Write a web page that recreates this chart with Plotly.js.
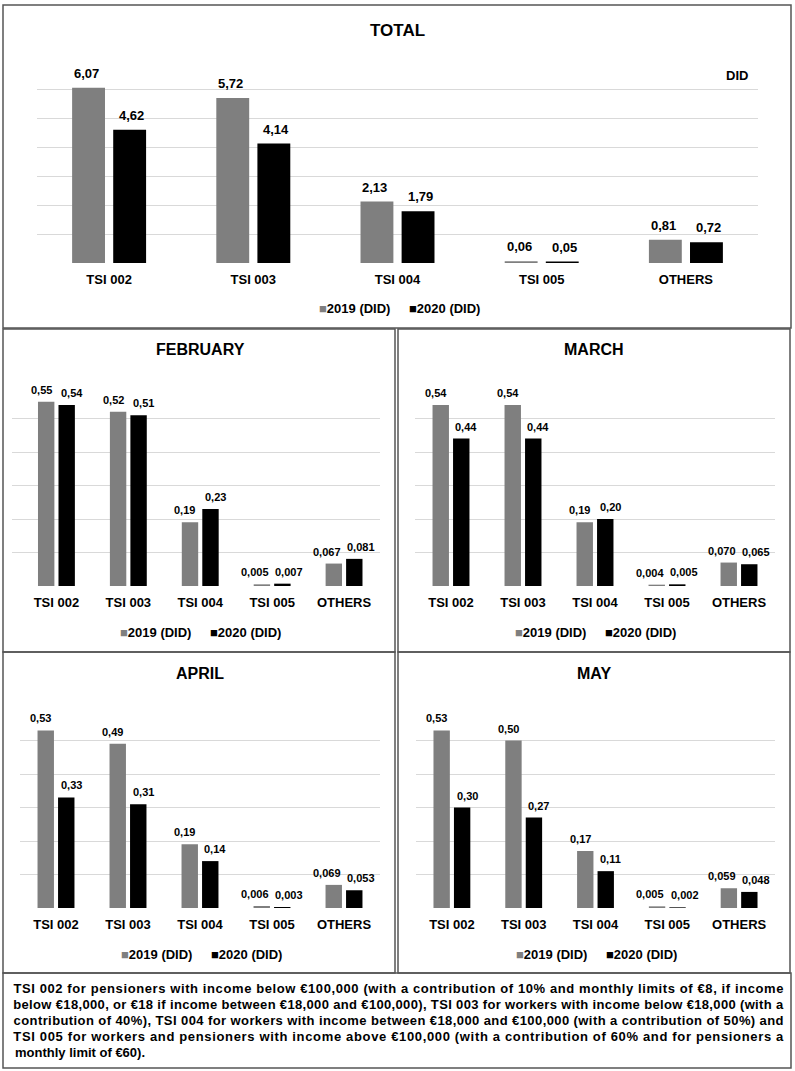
<!DOCTYPE html>
<html><head><meta charset="utf-8">
<script src="https://cdn.plot.ly/plotly-3.0.1.min.js"></script>
<style>html,body{margin:0;padding:0;background:#fff}#chart{width:795px;height:1071px}</style>
</head><body><div id="chart"></div><script>
// ---- data ----
const categories = ['TSI 002', 'TSI 003', 'TSI 004', 'TSI 005', 'OTHERS'];
const seriesNames = ['2019 (DID)', '2020 (DID)'];
const panelTitles = ['TOTAL', 'FEBRUARY', 'MARCH', 'APRIL', 'MAY'];
const total2019 = [6.07, 5.72, 2.13, 0.06, 0.81];
const total2020 = [4.62, 4.14, 1.79, 0.05, 0.72];
const feb2019 = [0.55, 0.52, 0.19, 0.005, 0.067];
const feb2020 = [0.54, 0.51, 0.23, 0.007, 0.081];
const mar2019 = [0.54, 0.54, 0.19, 0.004, 0.070];
const mar2020 = [0.44, 0.44, 0.20, 0.005, 0.065];
const apr2019 = [0.53, 0.49, 0.19, 0.006, 0.069];
const apr2020 = [0.33, 0.31, 0.14, 0.003, 0.053];
const may2019 = [0.53, 0.50, 0.17, 0.005, 0.059];
const may2020 = [0.30, 0.27, 0.11, 0.002, 0.048];
const unitLabel = 'DID';
const footnoteLines = [
  'TSI 002 for pensioners with income below €100,000 (with a contribution of 10% and monthly limits of €8, if income',
  'below €18,000, or €18 if income between €18,000 and €100,000), TSI 003 for workers with income below €18,000 (with a',
  'contribution of 40%), TSI 004 for workers with income between €18,000 and €100,000 (with a contribution of 50%) and',
  'TSI 005 for workers and pensioners with income above €100,000 (with a contribution of 60% and for pensioners a',
  'monthly limit of €60).'
];

// ---- layout helpers ----
const W = 795, H = 1071;
const px = x => x / W, py = y => 1 - y / H;
const FONT = 'Liberation Sans, Arial, sans-serif';
const COLORS = ['#7f7f7f', '#000000'];
const GRID = '#d9d9d9';
const BORDER = '#555555';
const BARGAP = 0.43, GROUPGAP = 0.2;

const panels = [
  {v: [total2019, total2020], x0: 37, x1: 758, y0: 61, y1: 263, yr: [0, 7], dtick: 1, xr: [-0.5, 4.5],
   labSize: 13, tSize: 17, tx: 397, ty: 30, lx: 400, ly: 308, fixed2: true, box: [3, 5, 791, 328]},
  {v: [feb2019, feb2020], x0: 12, x1: 380, y0: 385, y1: 586, yr: [0, 0.6], dtick: 0.1, xr: [-0.618, 4.5],
   labSize: 11, tSize: 16, tx: 200, ty: 350, lx: 201, ly: 632, box: [3, 329, 395, 652]},
  {v: [mar2019, mar2020], x0: 415, x1: 775, y0: 385, y1: 586, yr: [0, 0.6], dtick: 0.1, xr: [-0.5, 4.5],
   labSize: 11, tSize: 16, tx: 594, ty: 350, lx: 596, ly: 632, box: [398, 329, 790, 652]},
  {v: [apr2019, apr2020], x0: 20, x1: 380, y0: 707, y1: 908, yr: [0, 0.6], dtick: 0.1, xr: [-0.5, 4.5],
   labSize: 11, tSize: 16, tx: 200, ty: 673, lx: 202, ly: 954, box: [3, 652, 395, 973]},
  {v: [may2019, may2020], x0: 416, x1: 775, y0: 707, y1: 908, yr: [0, 0.6], dtick: 0.1, xr: [-0.5, 4.5],
   labSize: 11, tSize: 16, tx: 594, ty: 673, lx: 597, ly: 954, box: [398, 652, 790, 973]}
];

const fmt = (v, dec) => v.toFixed(dec).replace('.', ',');

const data = [];
const layout = {
  width: W, height: H, margin: {l: 0, r: 0, t: 0, b: 0},
  paper_bgcolor: '#ffffff', plot_bgcolor: '#ffffff',
  barmode: 'group', bargap: BARGAP, bargroupgap: GROUPGAP, showlegend: false,
  font: {family: FONT, color: '#000000', size: 13, weight: 'bold'},
  annotations: [], shapes: []
};

panels.forEach((p, i) => {
  const n = i === 0 ? '' : String(i + 1);
  const catPx = (p.x1 - p.x0) / (p.xr[1] - p.xr[0]);
  const barOff = catPx * (1 - BARGAP) / 4;
  p.v.forEach((vals, s) => {
    data.push({
      type: 'bar', x: categories, y: vals, name: seriesNames[s],
      xaxis: 'x' + n, yaxis: 'y' + n,
      marker: {color: COLORS[s]}, hoverinfo: 'skip'
    });
    // value labels, placed at each bar top through the axis scales
    vals.forEach((v, c) => {
      const dec = (p.fixed2 || v >= 0.1) ? 2 : 3;
      const extra = p.fixed2 ? 2 : (dec === 3 ? 7 : 5);
      layout.annotations.push({
        text: fmt(v, dec), xref: 'x' + n, yref: 'y' + n, x: categories[c], y: v,
        xanchor: 'center', yanchor: 'bottom', showarrow: false,
        xshift: (s === 0 ? -1 : 1) * (barOff + extra), yshift: p.fixed2 ? 5 : 4,
        font: {family: FONT, size: p.labSize, color: '#000000', weight: 'bold'}
      });
    });
    // legend entry (colour key + series name) below the category labels
    layout.annotations.push({
      text: '<span style="color:' + COLORS[s] + '">■</span>' + seriesNames[s],
      xref: 'paper', yref: 'paper', x: px(p.lx + (s === 0 ? -83 : 7)), y: py(p.ly),
      xanchor: 'left', yanchor: 'middle', showarrow: false,
      font: {family: FONT, size: 13, color: '#000000', weight: 'bold'}
    });
  });
  layout['xaxis' + n] = {
    domain: [px(p.x0), px(p.x1)], anchor: 'y' + n, type: 'category', range: p.xr,
    showgrid: false, zeroline: false, showline: false, ticks: '', fixedrange: true,
    tickfont: {family: FONT, size: 13, color: '#000000', weight: 'bold'}, ticklabelstandoff: 7
  };
  layout['yaxis' + n] = {
    domain: [py(p.y1), py(p.y0)], anchor: 'x' + n, range: p.yr, dtick: p.dtick, tick0: 0,
    showticklabels: false, showgrid: true, gridcolor: GRID, gridwidth: 1,
    zeroline: false, showline: false, ticks: '', fixedrange: true
  };
  layout.annotations.push({
    text: panelTitles[i], xref: 'paper', yref: 'paper', x: px(p.tx), y: py(p.ty),
    xanchor: 'center', yanchor: 'middle', showarrow: false,
    font: {family: FONT, size: p.tSize, color: '#000000', weight: 'bold'}
  });
  layout.shapes.push({
    type: 'rect', xref: 'paper', yref: 'paper',
    x0: px(p.box[0]), x1: px(p.box[2]), y0: py(p.box[3]), y1: py(p.box[1]),
    line: {color: BORDER, width: 1.5}, fillcolor: 'rgba(0,0,0,0)', layer: 'above'
  });
});

layout.annotations.push({
  text: unitLabel, xref: 'paper', yref: 'paper', x: px(737), y: py(76),
  xanchor: 'center', yanchor: 'middle', showarrow: false,
  font: {family: FONT, size: 13, color: '#000000', weight: 'bold'}
});

// footnote box
layout.shapes.push({
  type: 'rect', xref: 'paper', yref: 'paper',
  x0: px(3), x1: px(791), y0: py(1068), y1: py(973),
  line: {color: BORDER, width: 1.5}, fillcolor: 'rgba(0,0,0,0)', layer: 'above'
});
const footStart = layout.annotations.length;
const lastLine = footnoteLines.length - 1;
footnoteLines.forEach((t, k) => {
  const justify = k < lastLine;
  layout.annotations.push({
    text: t, xref: 'paper', yref: 'paper', x: justify ? px(398) : px(13), y: py(988 + 16 * k),
    xanchor: justify ? 'center' : 'left', yanchor: 'middle', showarrow: false,
    font: {family: FONT, size: 13, color: '#000000', weight: 'bold'}
  });
});

Plotly.newPlot('chart', data, layout, {staticPlot: true, displayModeBar: false}).then(gd => {
  // justify the first four footnote lines across the box, like the original text block
  for (let k = 0; k < lastLine; k++) {
    const el = gd.querySelector('.annotation[data-index="' + (footStart + k) + '"] text.annotation-text');
    if (el) { el.setAttribute('textLength', '770'); el.setAttribute('lengthAdjust', 'spacing'); }
  }
});
</script></body></html>
